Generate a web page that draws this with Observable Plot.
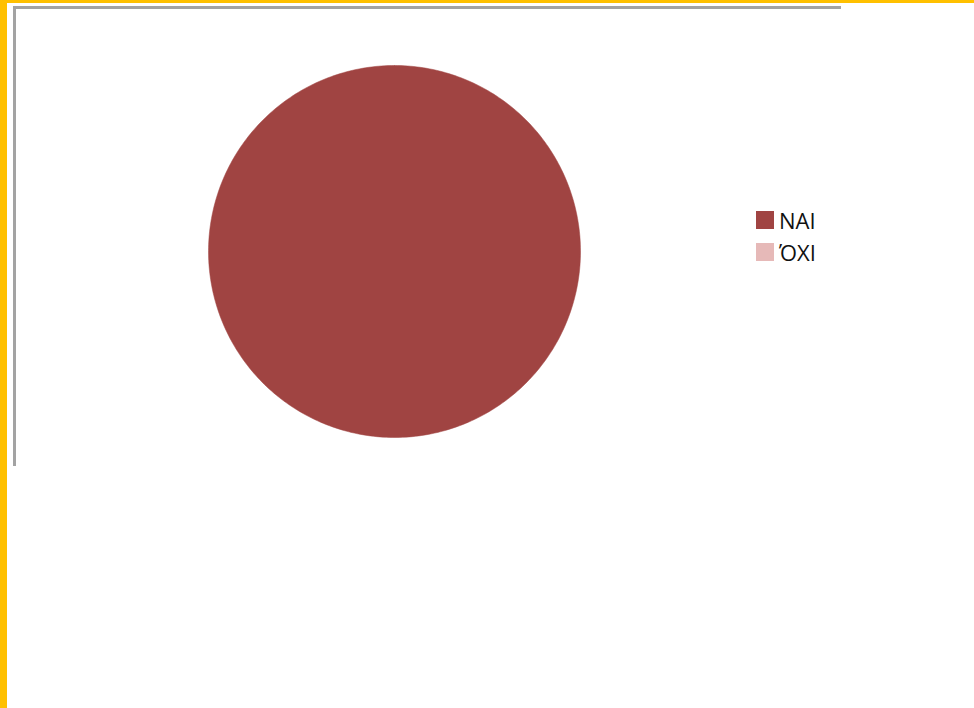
<!DOCTYPE html>
<html>
<head>
<meta charset="utf-8">
<script src="https://cdn.jsdelivr.net/npm/d3@7"></script>
<script src="https://cdn.jsdelivr.net/npm/@observablehq/plot@0.6"></script>
<style>
  html, body { margin: 0; padding: 0; background: #fff; }
  #wrap { position: relative; width: 974px; height: 708px; overflow: hidden; background: #fff; }
  #ybarL { position: absolute; left: 0; top: 0; width: 7px; height: 708px; background: #FFC000; }
  #ybarT { position: absolute; left: 0; top: 0; width: 974px; height: 3px; background: #FFC000; }
  #frame { position: absolute; left: 13px; top: 6px; width: 825px; height: 457px;
           border-top: 3px solid #a3a3a3; border-left: 3px solid #a3a3a3; }
  #chart { position: absolute; left: 0; top: 0; }
  #legend { position: absolute; left: 756px; top: 204px; font-family: "Open Sans", "Liberation Sans", sans-serif;
            font-size: 22px; color: #111; }
  .item { display: flex; align-items: center; height: 32px; }
  .sw { width: 18px; height: 18px; margin-right: 5px; }
</style>
</head>
<body>
<div id="wrap">
  <div id="ybarL"></div>
  <div id="ybarT"></div>
  <div id="frame"></div>
  <div id="chart"></div>
  <div id="legend"></div>
</div>
<script>
const categories = ["NAI", "ΌΧΙ"];
const values = [100, 0];
const colors = ["#A04442", "#E6B9B8"];

const data = categories.map((c, i) => ({label: c, value: values[i]}));
const arcs = d3.pie().sort(null).value(d => d.value)(data);

const pts = [];
arcs.filter(a => a.endAngle > a.startAngle).forEach(a => {
  const label = a.data.label;
  const span = a.endAngle - a.startAngle;
  const full = span >= 2 * Math.PI - 1e-9;
  const n = Math.max(2, Math.ceil(span / (2 * Math.PI) * 360) + 1);
  if (!full) pts.push({label, x: 0, y: 0});
  for (let k = 0; k < n; k++) {
    const t = a.startAngle + span * k / (n - 1);
    pts.push({label, x: Math.sin(t), y: Math.cos(t)});
  }
  if (!full) pts.push({label, x: 0, y: 0});
});

const chart = Plot.plot({
  width: 974,
  height: 708,
  marginLeft: 208,
  marginRight: 394,
  marginTop: 65,
  marginBottom: 271,
  x: {domain: [-1, 1], axis: null},
  y: {domain: [-1, 1], axis: null},
  color: {domain: categories, range: colors},
  style: {background: "transparent"},
  marks: [
    Plot.line(pts, {x: "x", y: "y", z: "label", fill: "label", stroke: "label", strokeWidth: 0.5, curve: "linear"})
  ]
});
document.getElementById("chart").appendChild(chart);

const leg = document.getElementById("legend");
categories.forEach((c, i) => {
  const it = document.createElement("div");
  it.className = "item";
  const sw = document.createElement("div");
  sw.className = "sw";
  sw.style.background = colors[i];
  const tx = document.createElement("span");
  tx.textContent = c;
  it.appendChild(sw);
  it.appendChild(tx);
  leg.appendChild(it);
});
</script>
</body>
</html>
